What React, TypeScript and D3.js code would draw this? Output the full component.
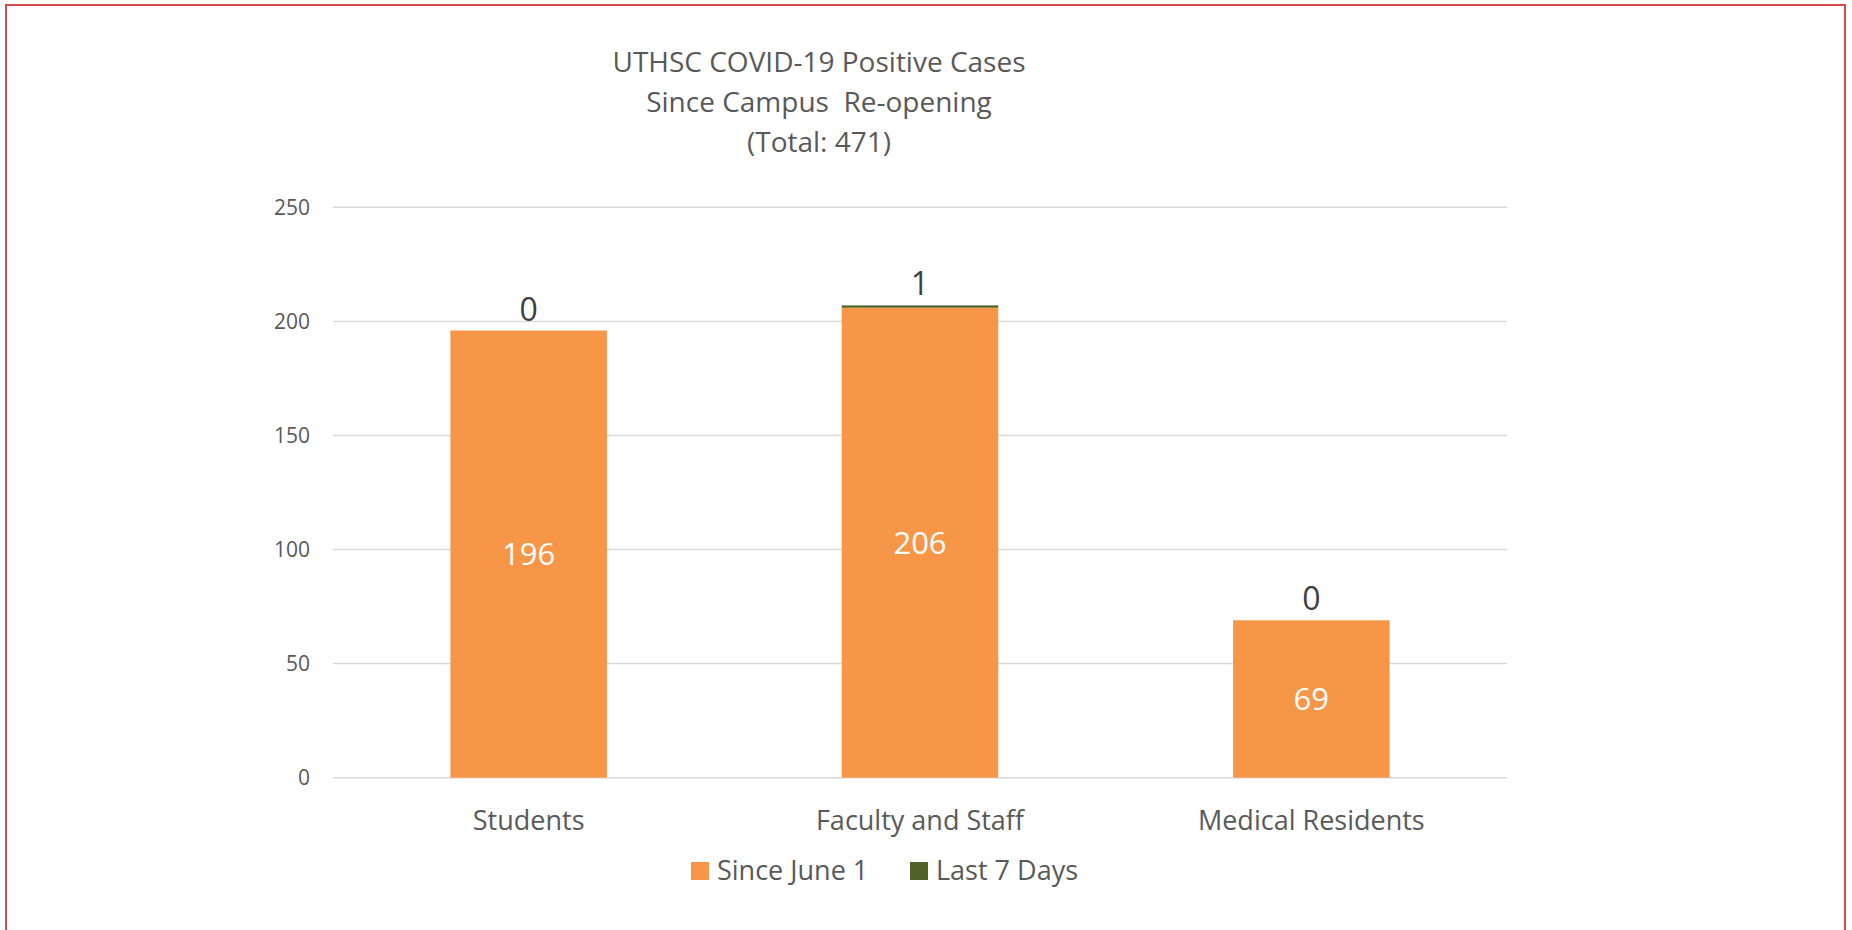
import React, { useEffect, useRef } from "react";
import * as d3 from "d3";

const categories = ["Students", "Faculty and Staff", "Medical Residents"];
const sinceJune1 = [196, 206, 69];
const last7Days = [0, 1, 0];
const seriesNames = ["Since June 1", "Last 7 Days"];
const yTicks = [0, 50, 100, 150, 200, 250];
const titleLines = [
  "UTHSC COVID-19 Positive Cases",
  "Since Campus  Re-opening",
  "(Total: 471)",
];

const W = 1852;
const H = 930;
const FONT = "'Open Sans', sans-serif";

const App = () => {
  const ref = useRef<SVGSVGElement>(null);

  useEffect(() => {
    const svg = d3.select(ref.current);
    svg.selectAll("*").remove();

    svg.append("rect").attr("width", W).attr("height", H).attr("fill", "#fff");

    // outer red frame
    svg
      .append("rect")
      .attr("x", 6)
      .attr("y", 5)
      .attr("width", 1839)
      .attr("height", 1000)
      .attr("fill", "none")
      .attr("stroke", "#d64b4b")
      .attr("stroke-width", 2);

    const x = d3
      .scaleBand()
      .domain(categories)
      .range([333, 1507])
      .paddingInner(0.6)
      .paddingOuter(0.3);
    const y = d3.scaleLinear().domain([0, 250]).range([777.7, 207.3]);

    // gridlines
    svg
      .append("g")
      .selectAll("line")
      .data(yTicks)
      .enter()
      .append("line")
      .attr("x1", 333)
      .attr("x2", 1507)
      .attr("y1", (d) => y(d))
      .attr("y2", (d) => y(d))
      .attr("stroke", "#d9d9d9")
      .attr("stroke-width", 1.5);

    // y tick labels
    svg
      .append("g")
      .selectAll("text")
      .data(yTicks)
      .enter()
      .append("text")
      .attr("x", 310)
      .attr("y", (d) => y(d))
      .attr("dy", "0.36em")
      .attr("text-anchor", "end")
      .attr("font-family", FONT)
      .attr("font-size", 21)
      .attr("fill", "#595959")
      .text((d) => d);

    const rows = categories.map((c, i) => ({
      c,
      a: sinceJune1[i],
      b: last7Days[i],
    }));

    // orange bars
    svg
      .append("g")
      .selectAll("rect")
      .data(rows)
      .enter()
      .append("rect")
      .attr("x", (d) => x(d.c)!)
      .attr("y", (d) => y(d.a))
      .attr("width", x.bandwidth())
      .attr("height", (d) => y(0) - y(d.a))
      .attr("fill", "#f79646");

    // green bars stacked on top
    svg
      .append("g")
      .selectAll("rect")
      .data(rows)
      .enter()
      .append("rect")
      .attr("x", (d) => x(d.c)!)
      .attr("y", (d) => y(d.a + d.b))
      .attr("width", x.bandwidth())
      .attr("height", (d) => y(d.a) - y(d.a + d.b))
      .attr("fill", "#4f6228");

    // inside labels
    svg
      .append("g")
      .selectAll("text")
      .data(rows)
      .enter()
      .append("text")
      .attr("x", (d) => x(d.c)! + x.bandwidth() / 2)
      .attr("y", (d) => (y(d.a) + y(0)) / 2)
      .attr("dy", "0.36em")
      .attr("text-anchor", "middle")
      .attr("font-family", FONT)
      .attr("font-size", 31)
      .attr("fill", "#fff")
      .text((d) => d.a);

    // top labels
    svg
      .append("g")
      .selectAll("text")
      .data(rows)
      .enter()
      .append("text")
      .attr("x", (d) => x(d.c)! + x.bandwidth() / 2)
      .attr("y", (d) => y(d.a + d.b) - 10)
      .attr("text-anchor", "middle")
      .attr("font-family", FONT)
      .attr("font-size", 32)
      .attr("fill", "#404040")
      .text((d) => d.b);

    // category labels
    svg
      .append("g")
      .selectAll("text")
      .data(categories)
      .enter()
      .append("text")
      .attr("x", (d) => x(d)! + x.bandwidth() / 2)
      .attr("y", 830)
      .attr("text-anchor", "middle")
      .attr("font-family", FONT)
      .attr("font-size", 27)
      .attr("fill", "#595959")
      .text((d) => d);

    // title (keeps the double space)
    svg
      .append("g")
      .selectAll("text")
      .data(titleLines)
      .enter()
      .append("text")
      .attr("x", 819)
      .attr("y", (d, i) => 72 + i * 40)
      .attr("text-anchor", "middle")
      .attr("font-family", FONT)
      .attr("font-size", 28)
      .attr("fill", "#595959")
      .style("white-space", "pre")
      .text((d) => d);

    // legend
    const colors = ["#f79646", "#4f6228"];
    const legendX = [691, 910];
    const lg = svg
      .append("g")
      .selectAll("g")
      .data(seriesNames)
      .enter()
      .append("g")
      .attr("transform", (d, i) => `translate(${legendX[i]},862)`);
    lg.append("rect")
      .attr("width", 18)
      .attr("height", 18)
      .attr("fill", (d, i) => colors[i]);
    lg.append("text")
      .attr("x", 26)
      .attr("y", 18)
      .attr("font-family", FONT)
      .attr("font-size", 27)
      .attr("fill", "#595959")
      .text((d) => d);
  }, []);

  return (
    <svg
      ref={ref}
      width={W}
      height={H}
      style={{ position: "absolute", left: 0, top: 0, display: "block" }}
    ></svg>
  );
};

export default App;
